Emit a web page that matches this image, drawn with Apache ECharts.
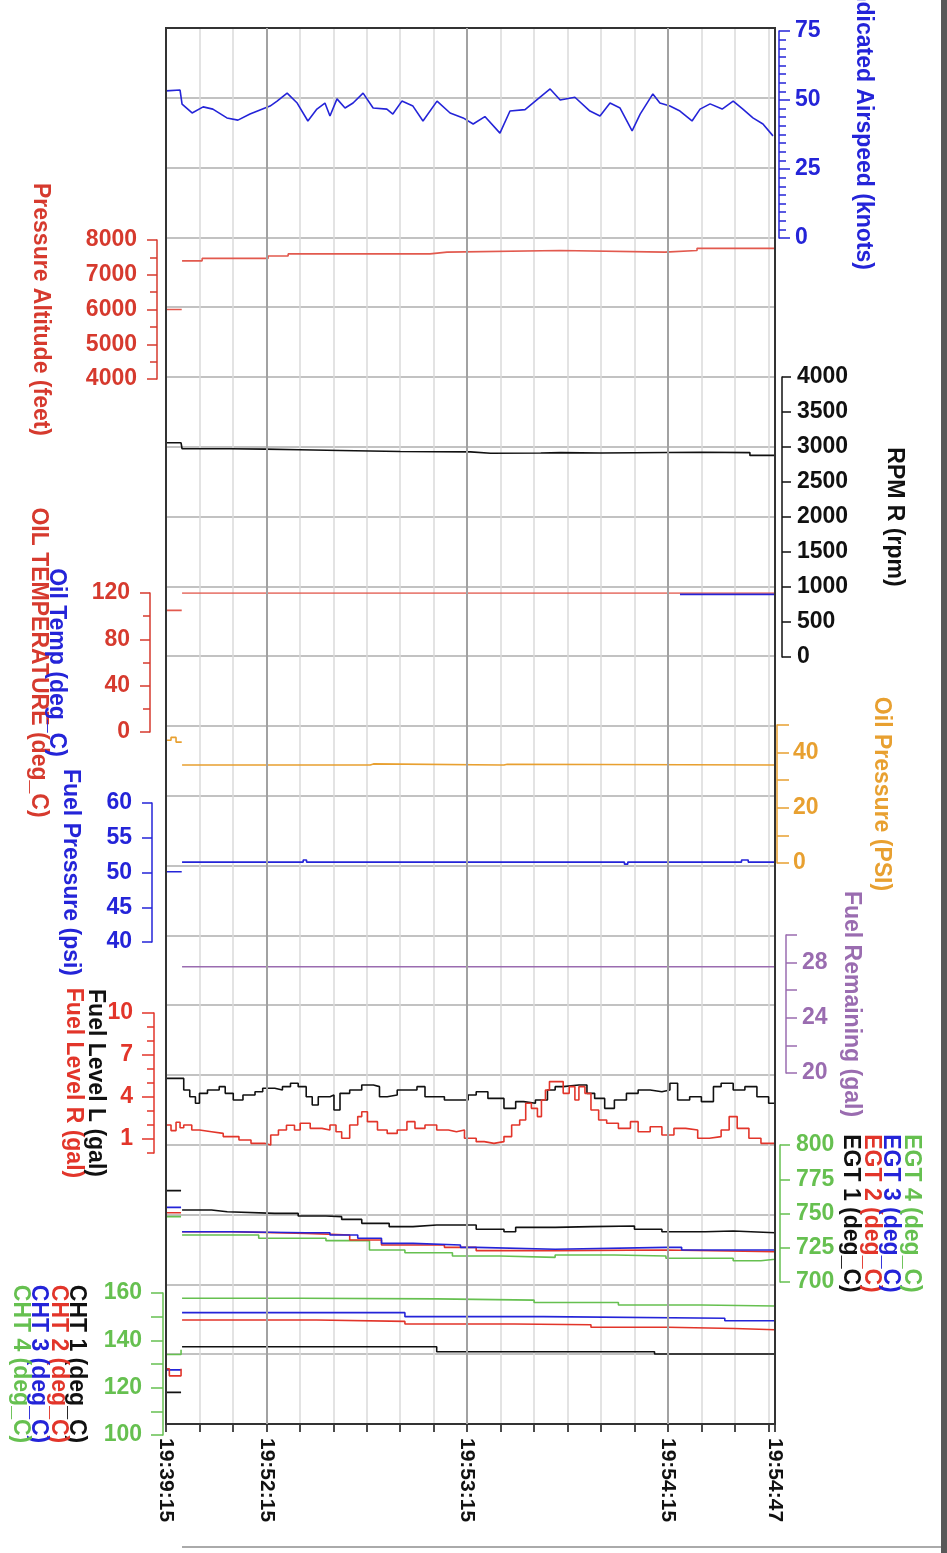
<!DOCTYPE html>
<html><head><meta charset="utf-8">
<script src="https://cdn.jsdelivr.net/npm/echarts@6/dist/echarts.min.js"></script>
<style>html,body{margin:0;padding:0;background:#fff}#c{width:947px;height:1553px}</style>
</head><body><div id="c"></div><script>
// time axis: seconds since 19:51:45 (left edge of plot); first sample is labelled 19:39:15
const timeTicks = [0, 30, 90, 150, 182];
const timeLabels = ['19:39:15', '19:52:15', '19:53:15', '19:54:15', '19:54:47'];
const majorTimes = [30, 90, 150];

const airspeed = [[0,53.3],[4.2,53.6],[4.8,48.5],[7.8,45.3],[11.1,47.5],[14,46.7],[18.2,43.5],[21.5,42.7],[25.1,44.9],[28.1,46.4],[31.1,47.8],[33.2,49.6],[36.2,52.5],[39.2,48.9],[42.4,42.4],[45.1,46.7],[47.5,48.9],[49,44.2],[51.1,50.4],[53.5,47.1],[55.9,48.9],[58.9,52.5],[61.9,47.1],[66,46.7],[67.8,44.9],[70.5,49.6],[73.8,47.8],[76.8,42.4],[81,49.6],[84.9,45.3],[88.8,43.5],[91.8,41.3],[95.3,44],[99.8,38],[102.8,46],[107.3,46.5],[111.8,51],[114.8,54],[117.8,50],[122.2,51],[126.7,46],[129.7,44.2],[132.7,48.9],[135.7,47.1],[139.3,38.8],[141.7,44.9],[145.5,52.2],[147.6,48.9],[150.6,47.8],[153.6,46],[157.2,42.4],[159.6,46.7],[162.6,48.6],[166.2,46.7],[169.5,49.6],[172.4,46.7],[175.4,43.5],[178.4,41.3],[181.4,37]];
const pressureAlt = [[0,6000],[4.7,6000],[4.75,null],[4.8,7400],[10.8,7470],[30.5,7540],[36.5,7600],[78.9,7650],[84,7700],[117.8,7650],[149.1,7700],[158.7,7760],[182,7760]];
const rpm = [[0,3060],[4.5,3080],[4.8,2975],[19,2970],[29.6,2960],[40,2950],[52,2935],[70,2930],[91,2910],[97,2915],[112,2920],[118,2915],[130,2925],[160,2920],[174.5,2880],[182,2885]];
const oilTempRed = [[0,105],[4.7,105],[4.75,null],[4.8,120],[182,120]];
const oilTempBlue = [[153.6,118.8],[182,118.8]];
const oilPressure = [[0,44.5],[1.5,45.5],[3,43.8],[4.7,44],[4.75,null],[4.8,35.5],[60,35.5],[61,35.9],[62,35.5],[100,35.5],[101,35.8],[102,35.5],[182,35.5]];
const fuelPressure = [[0,50.1],[4.7,50.1],[4.75,null],[4.8,51.5],[40,51.5],[41,51.8],[42,51.5],[136,51.5],[137,51.2],[138,51.5],[171,51.5],[172,51.8],[174,51.5],[182,51.5]];
const fuelRemaining = [[4.8,27.7],[182,27.7]];
const fuelLevelL = [[0,5.33],[4.2,5.33],[5.3,4.5],[7.1,4.02],[8.8,3.55],[10,4.26],[12.4,4.5],[15.9,4.74],[17.7,4.26],[20.1,3.79],[23,4.14],[26.6,4.38],[28.9,4.62],[32.5,4.5],[34.8,4.74],[37.2,4.98],[39.5,4.74],[41.9,4.02],[43.7,3.43],[45.5,4.02],[49,4.14],[50.2,3.07],[52,4.26],[54.9,4.5],[58.5,4.86],[62,4.74],[63.8,4.02],[66.1,4.14],[69.1,4.5],[72.6,4.5],[75,4.74],[77.4,4.02],[80.9,4.02],[83.2,3.79],[86.8,3.79],[90.3,4.14],[92.7,4.38],[96.2,3.9],[101,3.19],[104.5,3.67],[106.9,3.55],[110.4,3.79],[114,4.5],[116.3,4.74],[118.7,4.86],[123.4,4.86],[125.8,4.26],[128.1,3.9],[131.1,3.19],[134,3.79],[137.6,4.26],[141.1,4.5],[144.7,4.38],[148.2,4.5],[150.6,4.98],[152.9,3.79],[156.5,4.02],[160,3.67],[163.6,4.74],[165.9,4.98],[169.5,4.5],[173,4.74],[176.6,4.02],[180.1,3.55],[182,3.79]];
const fuelLevelR = [[0,2.0],[1.5,1.6],[3,2.2],[4.2,1.8],[5.3,2.0],[7.7,1.64],[10,1.52],[13.6,1.4],[17.1,1.17],[21.8,0.93],[25.4,0.69],[29.5,0.57],[31.3,1.29],[33.6,1.64],[36,1.98],[38.4,1.64],[40.1,2.12],[43.1,1.76],[46.6,1.64],[49,2.0],[50.8,1.52],[52.5,1.05],[54.9,2.0],[57.3,2.6],[58.5,2.95],[60.2,2.24],[63.2,1.64],[66.1,1.4],[69.1,1.64],[72,2.24],[74.4,1.76],[77.4,2.0],[80.9,1.64],[84.4,1.52],[86.8,1.64],[89.2,1.05],[92.7,0.81],[95.1,0.69],[98,0.81],[101,1.17],[103.3,2.0],[105.7,2.36],[107.5,3.55],[109.2,3.19],[111,2.6],[112.2,3.79],[113.4,4.5],[114.6,5.1],[117.5,5.1],[118.7,4.26],[120.5,4.74],[122.2,3.79],[123.4,4.74],[125.2,4.26],[127,3.07],[129.3,2.36],[131.7,2.12],[135.2,1.76],[138.8,2.24],[141.1,1.52],[144.7,1.88],[148.2,1.29],[151.8,1.76],[155.3,1.64],[158.9,1.05],[162.4,1.17],[165.9,1.64],[168.3,2.6],[170.7,1.76],[174.2,1.05],[177.8,0.69],[182,0.57]];
const egt1 = [[0,766.7],[4.5,766.7],[4.7,null],[4.8,752.6],[13.6,751.3],[18.3,750.1],[32.5,750.1],[39.5,748.2],[47.8,747.7],[52.5,745.7],[58.5,742.8],[66.7,740.4],[73.8,741.6],[80.9,741.6],[92.7,738.5],[101,736.7],[104.5,739.9],[116.3,740.4],[127,740.9],[140,738.5],[148.2,736.7],[161.2,737.2],[169.5,736],[182,736]];
const egt2 = [[0,750.6],[4.5,750.6],[4.7,null],[4.8,736.7],[19.5,735.5],[41.9,734.3],[54.9,730.7],[64.4,727],[83.2,725.3],[92.7,722.9],[116.3,723.4],[149.4,722.1],[182,720.4]];
const egt3 = [[0,754.5],[4.5,754.5],[4.7,null],[4.8,736.7],[19.5,736],[41.9,736],[49,734.3],[57.3,731.9],[64.4,728.2],[73.8,727],[88,725.3],[92.7,723.9],[116.3,725.3],[149.4,725.3],[154.1,723.4],[182,722.9]];
const egt4 = [[0,747.7],[4.5,747.7],[4.7,null],[4.8,734.3],[27.7,731.9],[47.8,730.2],[60.8,723.4],[71.4,721.4],[85.6,719],[99.8,718],[116.3,719.7],[134,719],[149.4,717.3],[169.5,715.5],[177.8,716.6],[182,717.3]];
const cht1 = [[0,118],[4.5,118],[4.7,null],[4.8,137.3],[80.9,135.2],[146,134.2],[182,134.2]];
const cht2 = [[0,128],[1,125],[3.5,125],[4.5,128],[4.7,null],[4.8,148.6],[45,148],[71.4,146.9],[104,146.6],[127,145.5],[150,145],[170,144.5],[182,144.1]];
const cht3 = [[0,127.5],[4.5,127.5],[4.7,null],[4.8,151.7],[71.4,150],[112.7,149.3],[167,148.3],[182,148.3]];
const cht4 = [[0,134],[4.5,136],[4.7,null],[4.8,157.8],[40,157.5],[80.9,157],[110,156],[135.2,154.9],[160,154.5],[182,154]];

const FONT = '"Liberation Sans", Arial, sans-serif';
const COL = {blue:'#2424d8', red:'#d63a2e', salmon:'#e2594e', black:'#111111', orange:'#e8a030', purple:'#9a6cb0', green:'#66c050', lred:'#e2352a'};

const bands = [
  {top:31, height:207}, {top:240, height:139}, {top:377, height:280}, {top:593, height:139},
  {top:725, height:138}, {top:803, height:139}, {top:935, height:138}, {top:1013, height:140},
  {top:1145, height:137}, {top:1293, height:142}
];
const grid = [{left:166, top:28, width:609, height:1396, show:true, borderColor:'#333', borderWidth:2, z:5, outerBoundsMode:'none', containLabel:false}]
  .concat(bands.map(b => ({left:166, width:609, top:b.top, height:b.height, outerBoundsMode:'none', containLabel:false})));

const xAxis = [{
  gridIndex:0, type:'value', min:0, max:182, interval:10,
  axisLine:{show:false, onZero:false},
  axisTick:{show:true, length:8, lineStyle:{color:'#111', width:1.5}},
  axisLabel:{customValues:timeTicks, rotate:-90, margin:14, color:'#111', fontFamily:FONT, fontWeight:'bold', fontSize:21,
    formatter: v => { const i = timeTicks.indexOf(v); return i >= 0 ? timeLabels[i] : ''; }},
  splitLine:{show:true, lineStyle:{color:'#dadada', width:1.5}}
}].concat(bands.map((b,i) => ({gridIndex:i+1, type:'value', min:0, max:182, show:false, axisLine:{onZero:false}})));

function yax(o) {
  const col = o.color;
  return {
    type:'value', gridIndex:o.g, position:o.pos, offset:o.off, min:o.min, max:o.max, interval:o.iv,
    name:o.name || '', nameLocation:'middle', nameRotate:-90, nameGap:o.gap || 0, nameMoveOverlap:false,
    nameTextStyle:{color:o.nameColor || col, fontFamily:FONT, fontWeight:'bold', fontSize:23, padding:o.namePad || 0},
    axisLine:{show:o.line !== false, onZero:false, lineStyle:{color:col, width:1.5}},
    axisTick:{show:o.tick !== false, inside:false, length:o.tl || 10, lineStyle:{color:col, width:1.5}, customValues:o.tickValues},
    minorTick:{show:!!o.minor, splitNumber:o.minor || 5, length:7, lineStyle:{color:col, width:1.5}},
    axisLabel:{show:o.label !== false, color:col, fontFamily:FONT, fontWeight:'bold', fontSize:23, margin:o.margin || 16,
      customValues:o.labelValues, formatter: v => String(v)},
    splitLine:{show:false}, minorSplitLine:{show:false}
  };
}

const yAxis = [
  {gridIndex:0, type:'value', min:0, max:20, interval:1, axisLine:{show:false, onZero:false}, axisTick:{show:false}, axisLabel:{show:false},
   splitLine:{show:true, lineStyle:{color:'#c2c2c2', width:2}}},
  yax({g:1, pos:'right', off:4, min:0, max:75, iv:25, color:COL.blue, name:'Indicated Airspeed (knots)', gap:73, minor:8, tl:11, margin:16, namePad:[0,18,0,0]}),   //1
  yax({g:2, pos:'left', off:9, min:4000, max:8000, iv:1000, color:COL.red, name:'Pressure Altitude (feet)', gap:105, minor:2, margin:20}),     //2
  yax({g:3, pos:'right', off:7, min:0, max:4000, iv:500, color:COL.black, name:'RPM R (rpm)', gap:101, tl:9, margin:15}),                     //3
  yax({g:4, pos:'left', off:16, min:0, max:120, iv:40, color:COL.red, name:'OIL TEMPERATURE (deg_C)', gap:100, minor:2, margin:20}),           //4
  yax({g:4, pos:'left', off:16, min:0, max:120, iv:40, color:COL.blue, name:'Oil Temp (deg_C)', gap:82, line:false, tick:false, label:false}),//5
  yax({g:5, pos:'right', off:2, min:0, max:50, iv:10, color:COL.orange, name:'Oil Pressure (PSI)', gap:93, tl:12, labelValues:[0,20,40], margin:16}), //6
  yax({g:6, pos:'left', off:14, min:40, max:60, iv:5, color:COL.blue, name:'Fuel Pressure (psi)', gap:70, margin:20}),                         //7
  yax({g:7, pos:'right', off:11, min:20, max:30, iv:2, color:COL.purple, name:'Fuel Remaining (gal)', gap:54, tl:11, labelValues:[20,24,28], margin:16}), //8
  yax({g:8, pos:'left', off:12, min:0, max:10, iv:1, color:COL.lred, name:'Fuel Level R (gal)', gap:69, tl:7, labelValues:[1,4,7,10], margin:21}),   //9
  yax({g:8, pos:'left', off:12, min:0, max:10, iv:1, color:COL.lred, nameColor:COL.black, name:'Fuel Level L (gal)', gap:47, line:false, label:false, tl:12, tickValues:[1,4,7,10]}), //10
  yax({g:9, pos:'right', off:5, min:700, max:800, iv:25, color:COL.green, nameColor:COL.black, name:'EGT 1 (deg_C)', gap:59, tl:10, margin:16}), //11
  yax({g:9, pos:'right', off:5, min:700, max:800, iv:25, color:COL.green, nameColor:COL.lred, name:'EGT 2 (deg_C)', gap:80, line:false, tick:false, label:false}), //12
  yax({g:9, pos:'right', off:5, min:700, max:800, iv:25, color:COL.green, nameColor:COL.blue, name:'EGT 3 (deg_C)', gap:99, line:false, tick:false, label:false}), //13
  yax({g:9, pos:'right', off:5, min:700, max:800, iv:25, color:COL.green, nameColor:COL.green, name:'EGT 4 (deg_C)', gap:120, line:false, tick:false, label:false}), //14
  yax({g:10, pos:'left', off:3, min:100, max:160, iv:10, color:COL.green, nameColor:COL.black, name:'CHT 1 (deg_C)', gap:75, tl:12, labelValues:[100,120,140,160], margin:21}), //15
  yax({g:10, pos:'left', off:3, min:100, max:160, iv:10, color:COL.green, nameColor:COL.lred, name:'CHT 2 (deg_C)', gap:93, line:false, tick:false, label:false}), //16
  yax({g:10, pos:'left', off:3, min:100, max:160, iv:10, color:COL.green, nameColor:COL.blue, name:'CHT 3 (deg_C)', gap:113, line:false, tick:false, label:false}), //17
  yax({g:10, pos:'left', off:3, min:100, max:160, iv:10, color:COL.green, nameColor:COL.green, name:'CHT 4 (deg_C)', gap:131, line:false, tick:false, label:false})  //18
];

function line(data, g, y, color, step) {
  return {type:'line', xAxisIndex:g, yAxisIndex:y, data:data, showSymbol:false, symbol:'none', step:step || false,
    connectNulls:false, lineStyle:{color:color, width:1.6}, itemStyle:{color:color}, animation:false, silent:true};
}

const series = [
  {type:'line', xAxisIndex:0, yAxisIndex:0, data:[], silent:true, animation:false,
   markLine:{silent:true, symbol:'none', animation:false, label:{show:false},
     lineStyle:{color:'#a2a2a2', width:2, type:'solid'}, data:majorTimes.map(v => ({xAxis:v}))}},
  line(airspeed, 1, 1, COL.blue),
  line(pressureAlt, 2, 2, COL.salmon, 'end'),
  line(rpm, 3, 3, COL.black, 'end'),
  line(oilTempRed, 4, 4, COL.salmon),
  line(oilTempBlue, 4, 5, COL.blue),
  line(oilPressure, 5, 6, COL.orange, 'end'),
  line(fuelPressure, 6, 7, COL.blue, 'end'),
  line(fuelRemaining, 7, 8, COL.purple),
  line(fuelLevelL, 8, 10, COL.black, 'end'),
  line(fuelLevelR, 8, 9, COL.lred, 'end'),
  line(egt1, 9, 11, COL.black, 'end'),
  line(egt4, 9, 14, COL.green, 'end'),
  line(egt2, 9, 12, COL.lred, 'end'),
  line(egt3, 9, 13, COL.blue, 'end'),
  line(cht1, 10, 15, COL.black, 'end'),
  line(cht4, 10, 18, COL.green, 'end'),
  line(cht3, 10, 17, COL.blue, 'end'),
  line(cht2, 10, 16, COL.lred, 'end')
];

const chart = echarts.init(document.getElementById('c'), null, {renderer:'canvas'});
chart.setOption({
  animation:false, backgroundColor:'#ffffff',
  grid, xAxis, yAxis, series,
  graphic:[
    {type:'rect', shape:{x:941, y:0, width:6, height:1553}, style:{fill:'#585858'}, silent:true},
    {type:'line', shape:{x1:182, y1:1547, x2:941, y2:1547}, style:{stroke:'#aaaaaa', lineWidth:2}, silent:true}
  ]
});
</script></body></html>
